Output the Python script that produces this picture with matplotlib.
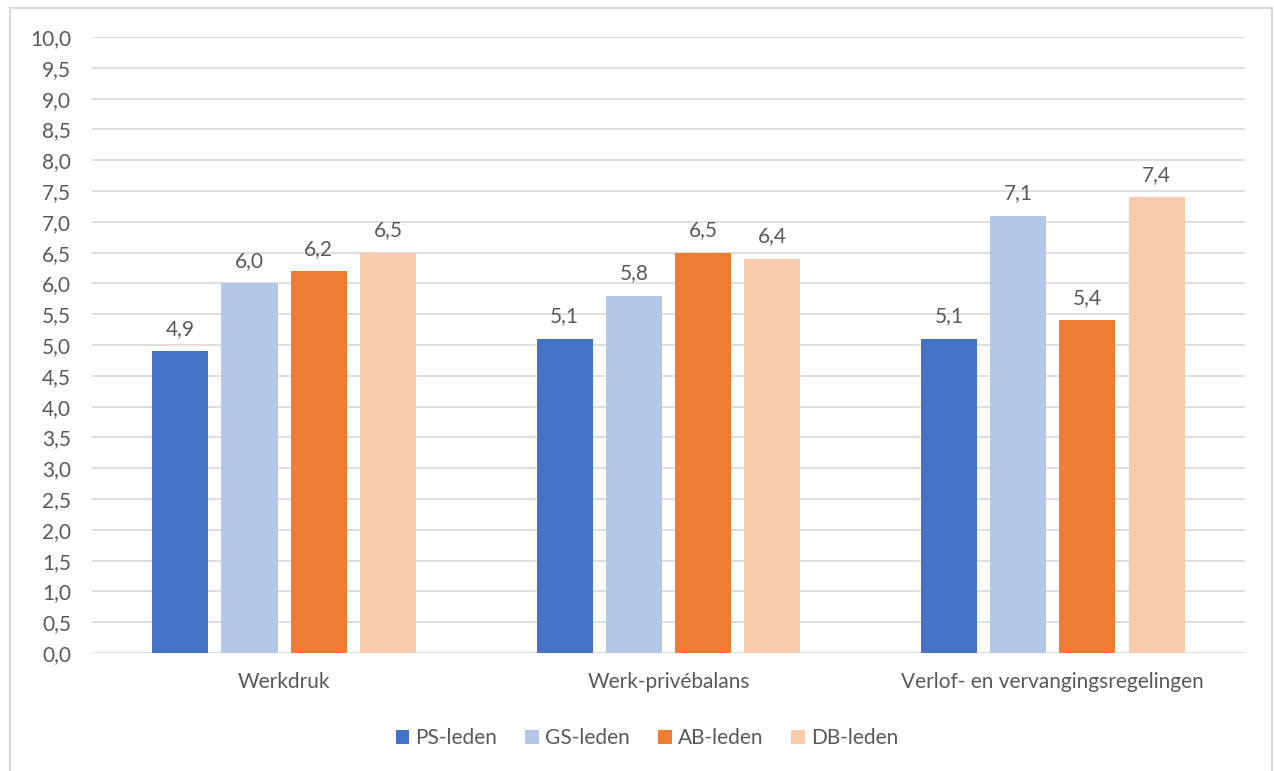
import matplotlib.pyplot as plt
from matplotlib.patches import Rectangle
import numpy as np

# Scores per thema en groep leden
categories = ["Werkdruk", "Werk-privébalans", "Verlof- en vervangingsregelingen"]
groups = ["PS-leden", "GS-leden", "AB-leden", "DB-leden"]
ps_leden = [4.9, 5.1, 5.1]
gs_leden = [6.0, 5.8, 7.1]
ab_leden = [6.2, 6.5, 5.4]
db_leden = [6.5, 6.4, 7.4]
colors = ["#4472C4", "#B4C7E7", "#ED7D31", "#F8CBAD"]

plt.rcParams['font.family'] = ['Lato', 'DejaVu Sans']
txt = "#595959"
fs = 15

fig = plt.figure(figsize=(12.74, 7.71), dpi=100)
ax = fig.add_axes([0.0722, 0.153, 0.9050, 0.799])

# lichtgrijze rand om de hele grafiek
fig.patches.append(Rectangle((10 / 1274, -0.01), 1262 / 1274, 1 - 8 / 771 + 0.01,
                             transform=fig.transFigure, fill=False,
                             edgecolor="#D9D9D9", linewidth=1.5))

x = np.arange(len(categories))
width = 0.146
step = 0.18
series = [ps_leden, gs_leden, ab_leden, db_leden]
for i, (name, vals) in enumerate(zip(groups, series)):
    pos = x + (i - 1.5) * step
    bars = ax.bar(pos, vals, width, color=colors[i], label=name, zorder=3)
    for b, v in zip(bars, vals):
        ax.text(b.get_x() + b.get_width() / 2, v + 0.2, f"{v:.1f}".replace(".", ","),
                ha="center", va="bottom", fontsize=fs, color=txt)

ax.set_xlim(-0.5, 2.5)
ax.set_ylim(0, 10)
ax.set_yticks(np.arange(0, 10.01, 0.5))
ax.set_yticklabels([f"{t:.1f}".replace(".", ",") for t in np.arange(0, 10.01, 0.5)])
ax.set_xticks(x)
ax.set_xticklabels(categories)
ax.tick_params(axis="both", length=0, labelsize=fs, colors=txt)
ax.tick_params(axis="y", pad=15)
ax.tick_params(axis="x", pad=14)
ax.grid(axis="y", color="#D9D9D9", linewidth=1.2, zorder=0)
for s in ax.spines.values():
    s.set_visible(False)

leg = fig.legend(loc="center", bbox_to_anchor=(647 / 1274, 1 - 738 / 771), ncol=4,
                 frameon=False, fontsize=fs, handlelength=0.65, handleheight=0.65,
                 handletextpad=0.3, columnspacing=1.35)
for t in leg.get_texts():
    t.set_color(txt)

fig.savefig("out.png", dpi=100)
